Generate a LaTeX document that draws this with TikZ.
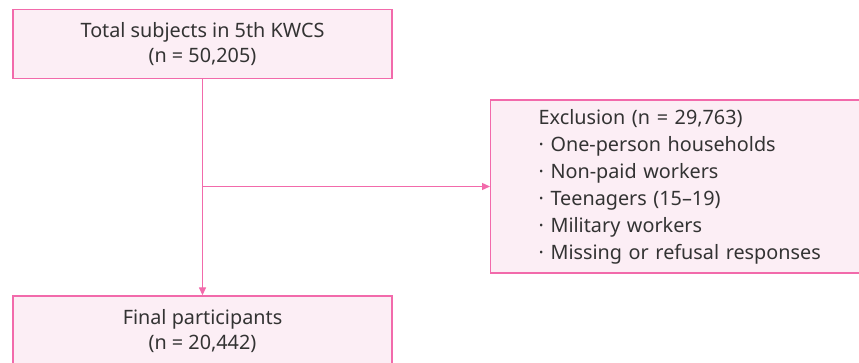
\documentclass[tikz,border=0pt]{standalone}
\usepackage{fontspec}
\setmainfont{Noto Sans}
\usepackage{xcolor}
\usetikzlibrary{arrows.meta}
\definecolor{boxpink}{HTML}{F26AAB}
\definecolor{boxfill}{HTML}{FCEEF5}
\definecolor{txtgray}{HTML}{333333}

\begin{document}
\begin{tikzpicture}[x=1pt, y=1pt,
	box/.style = {draw=boxpink, fill=boxfill, line width=1.3pt, text=txtgray,
		font=\fontsize{19.8}{25}\selectfont, align=center, inner sep=0pt},
	flow/.style = {draw=boxpink, line width=1.3pt, -{Triangle[length=8pt, width=7pt]}}]
	\useasboundingbox (0,0) rectangle (859,-363);
	\node[box, minimum width=379pt, minimum height=69pt] (total) at (202.5,-44) {Total subjects in 5th KWCS\\(n = 50,205)};
	\node[box, minimum width=379pt, minimum height=70pt] (final) at (202.5,-331) {Final participants\\(n = 20,442)};
	\node[box, anchor=west, align=left, text width=320pt, inner xsep=48pt, minimum height=173pt,
		font=\fontsize{19.8}{27}\selectfont] (excl) at (490,-186.5)
		{Exclusion (n = 29,763)\\· One-person households\\· Non-paid workers\\· Teenagers (15–19)\\· Military workers\\· Missing or refusal responses};
	\coordinate (split) at (total.south |- excl.west);
	\draw[flow] (total) -- (final);
	\draw[flow] (split) -- (excl.west);
\end{tikzpicture}
\end{document}
